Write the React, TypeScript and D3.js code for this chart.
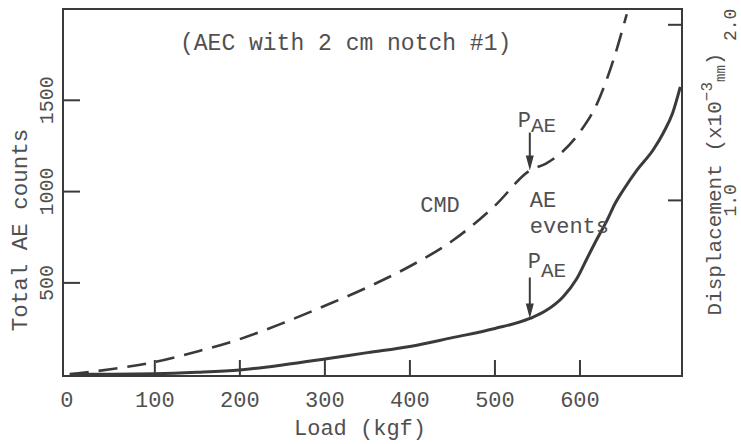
import React from "react";
import * as d3 from "d3";

const xTicks = [0, 100, 200, 300, 400, 500, 600];
const leftTicks = [500, 1000, 1500];
const rightTicks = [1.0, 2.0];

const cmdLoad = [0, 50, 100, 150, 200, 250, 300, 350, 400, 450, 500, 541, 560, 580, 600, 620, 640, 655];
const cmdDisp = [0.01, 0.04, 0.08, 0.14, 0.21, 0.3, 0.4, 0.505, 0.625, 0.77, 0.97, 1.17, 1.21, 1.28, 1.39, 1.55, 1.81, 2.06];

const aeLoad = [0, 50, 100, 150, 200, 250, 300, 350, 400, 450, 500, 541, 561, 580, 596, 608, 620, 632, 641, 651, 667, 686, 698, 709, 718];
const aeCounts = [0, 0, 2, 10, 23, 50, 83, 118, 152, 200, 250, 305, 351, 423, 521, 631, 740, 844, 932, 1009, 1118, 1228, 1321, 1430, 1573];

const paeLoad = 541;

const W = 741;
const H = 444;
const L = 63, R = 682, T = 9, B = 376;

const FONT = "'Liberation Mono', 'DejaVu Sans Mono', monospace";
const TEXT = "#505050";
const LINE = "#3a3a3a";

export default function App() {
  const x = d3.scaleLinear().domain([-8, 720]).range([L, R]);
  const yL = d3.scaleLinear().domain([-10, 2000]).range([B, T]);
  const yR = d3.scaleLinear().domain([0, 2.09]).range([B, T]);

  const cmdLine = d3
    .line<number>()
    .x((_, i) => x(cmdLoad[i]))
    .y((d) => yR(d))
    .curve(d3.curveMonotoneX)(cmdDisp) as string;

  const aeLine = d3
    .line<number>()
    .x((_, i) => x(aeLoad[i]))
    .y((d) => yL(d))
    .curve(d3.curveMonotoneX)(aeCounts) as string;

  const interp = (xs: number[], ys: number[], v: number) => {
    for (let i = 0; i < xs.length - 1; i++) {
      if (v >= xs[i] && v <= xs[i + 1]) {
        const t = (v - xs[i]) / (xs[i + 1] - xs[i]);
        return ys[i] + t * (ys[i + 1] - ys[i]);
      }
    }
    return ys[ys.length - 1];
  };

  const ax = x(paeLoad);
  const upTip = yR(interp(cmdLoad, cmdDisp, paeLoad));
  const loTip = yL(interp(aeLoad, aeCounts, paeLoad));

  const arrow = (px: number, y0: number, y1: number) => (
    <g>
      <line x1={px} x2={px} y1={y0} y2={y1 - 10} stroke={LINE} strokeWidth={2} />
      <path d={`M${px - 4},${y1 - 15} L${px + 4},${y1 - 15} L${px},${y1} Z`} fill={LINE} />
    </g>
  );

  return (
    <svg
      width={W}
      height={H}
      style={{ position: "absolute", left: 0, top: 0, background: "#fff" }}
      fontFamily={FONT}
    >
      <rect x={0} y={0} width={W} height={H} fill="#fff" />
      {/* frame */}
      <rect x={L} y={T} width={R - L} height={B - T} fill="none" stroke={LINE} strokeWidth={2} />

      {/* x ticks */}
      {xTicks.map((t) => (
        <g key={"xt" + t}>
          {t > 0 && <line x1={x(t)} x2={x(t)} y1={B} y2={B - 16} stroke={LINE} strokeWidth={2} />}
          <text x={x(t) - (t === 0 ? 3 : 0)} y={407} textAnchor="middle" fontSize={22} fill={TEXT}>
            {t}
          </text>
        </g>
      ))}
      <text x={360} y={435} textAnchor="middle" fontSize={22} fill={TEXT}>
        Load (kgf)
      </text>

      {/* left ticks */}
      {leftTicks.map((t) => (
        <g key={"lt" + t}>
          <line x1={L} x2={L + 17} y1={yL(t)} y2={yL(t)} stroke={LINE} strokeWidth={2} />
          <text
            transform={`translate(53,${yL(t)}) rotate(-90)`}
            textAnchor="middle"
            fontSize={20}
            fill={TEXT}
          >
            {t}
          </text>
        </g>
      ))}
      <text
        transform={`translate(27,230) rotate(-90)`}
        textAnchor="middle"
        fontSize={22.5}
        fill={TEXT}
      >
        Total AE counts
      </text>

      {/* right ticks */}
      {rightTicks.map((t) => (
        <g key={"rt" + t}>
          <line x1={R} x2={R - 14} y1={yR(t)} y2={yR(t)} stroke={LINE} strokeWidth={2} />
          <text
            transform={`translate(736,${yR(t)}) rotate(-90)`}
            textAnchor="middle"
            fontSize={18}
            fill={TEXT}
          >
            {t.toFixed(1)}
          </text>
        </g>
      ))}
      <text
        transform={`translate(721,184) rotate(-90)`}
        textAnchor="middle"
        fontSize={21}
        fill={TEXT}
      >
        Displacement (x10
        <tspan fontSize={16} dy={-9}>−3</tspan>
        <tspan fontSize={14} dy={13}>mm</tspan>
        <tspan dy={-4}>)</tspan>
      </text>

      {/* title */}
      <text x={180} y={50} fontSize={23} fill={TEXT}>
        (AEC with 2 cm notch #1)
      </text>

      {/* curves */}
      <path d={cmdLine} fill="none" stroke={LINE} strokeWidth={2.6} strokeDasharray="19 10" />
      <path d={aeLine} fill="none" stroke={LINE} strokeWidth={3} />

      {/* annotations */}
      <text x={440} y={212} textAnchor="middle" fontSize={22} fill={TEXT}>
        CMD
      </text>
      <text x={ax} y={207} fontSize={22} fill={TEXT}>
        AE
      </text>
      <text x={ax} y={233} fontSize={22} fill={TEXT}>
        events
      </text>

      <text x={ax - 12} y={127} fontSize={22} fill={TEXT}>
        P<tspan fontSize={21} dy={5}>AE</tspan>
      </text>
      {arrow(ax, upTip - 38, upTip)}

      <text x={ax - 2} y={268} fontSize={22} fill={TEXT}>
        P<tspan fontSize={21} dy={9}>AE</tspan>
      </text>
      {arrow(ax, loTip - 41, loTip)}
    </svg>
  );
}
